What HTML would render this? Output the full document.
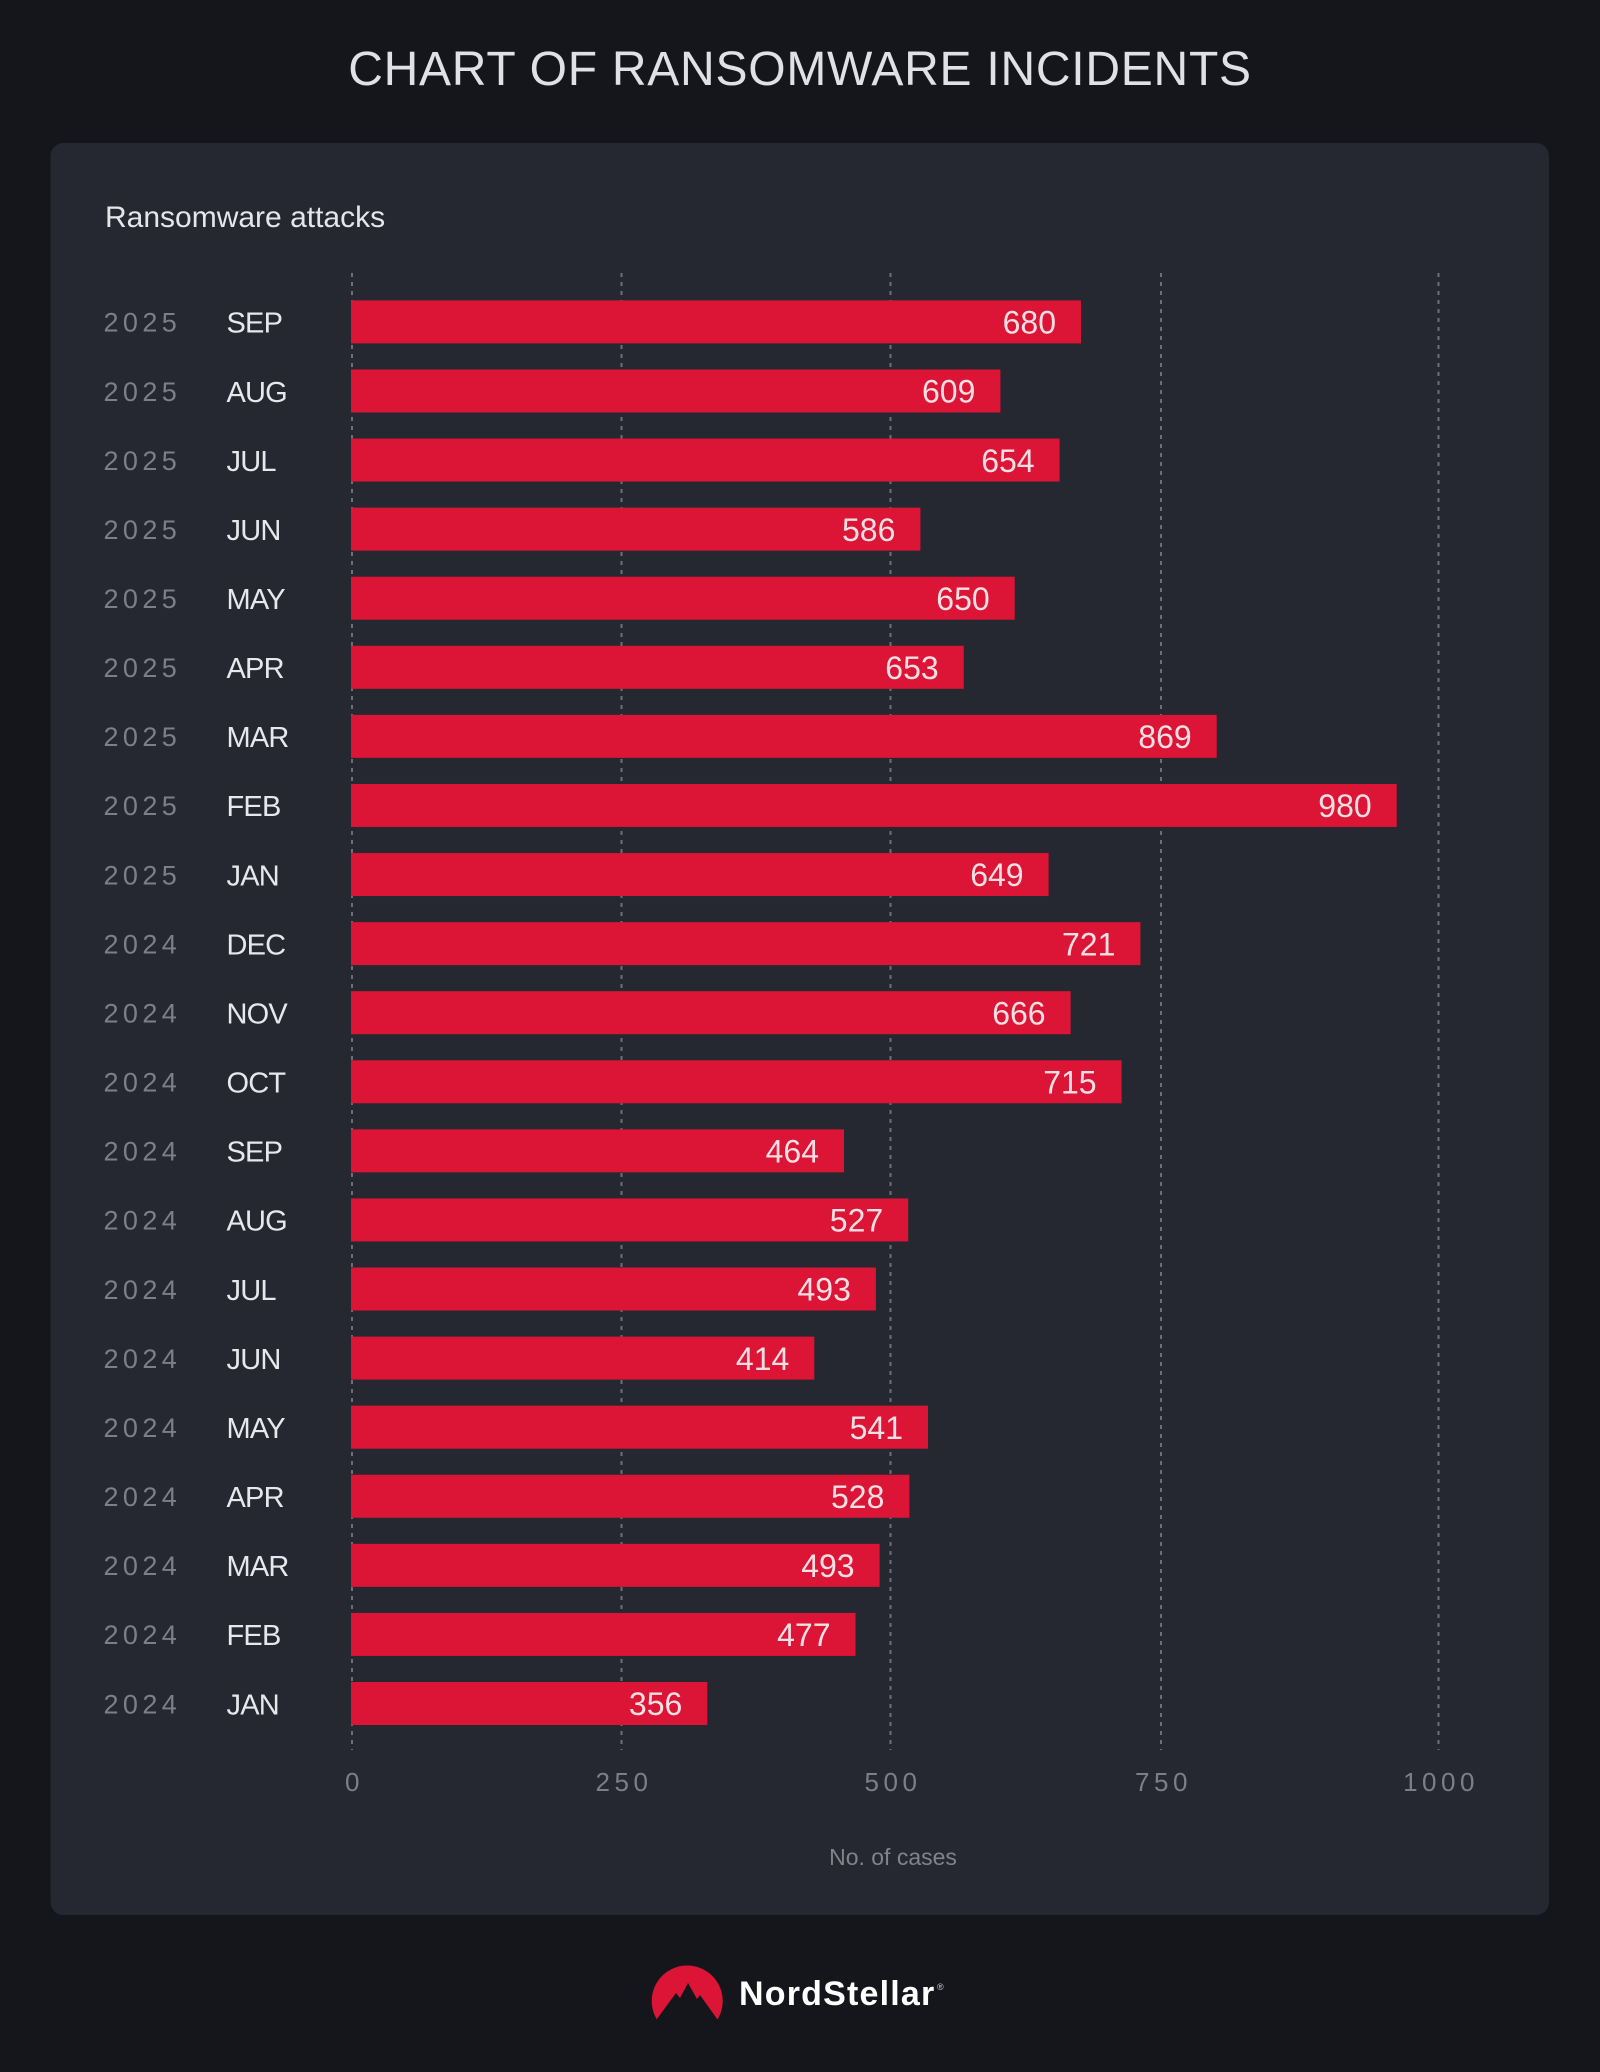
<!DOCTYPE html>
<html>
<head>
<meta charset="utf-8">
<style>
  html, body { margin: 0; padding: 0; background: #15161b; }
  body { width: 1600px; height: 2072px; overflow: hidden; }
  svg { display: block; }
  text { font-family: "Liberation Sans", "DejaVu Sans", sans-serif; }
</style>
</head>
<body>
<svg width="1600" height="2072" viewBox="0 0 1600 2072" xmlns="http://www.w3.org/2000/svg">
  <defs>
    <clipPath id="logoclip"><rect x="640" y="1950" width="100" height="71"/></clipPath>
  </defs>
  <rect x="0" y="0" width="1600" height="2072" fill="#15161b"/>

  <!-- Title -->
  <text x="800" y="85" text-anchor="middle" font-size="48" letter-spacing="0.75" fill="#dfe1e7">CHART OF RANSOMWARE INCIDENTS</text>

  <!-- Card -->
  <rect x="50.5" y="143" width="1498.5" height="1772" rx="13" ry="13" fill="#252830"/>

  <text x="105" y="227" font-size="30" fill="#e4e6eb">Ransomware attacks</text>

  <!-- Gridlines -->
  <g stroke="#6c6f78" stroke-width="2" stroke-dasharray="4 5">
    <line x1="352" y1="273" x2="352" y2="1750"/>
    <line x1="621.5" y1="273" x2="621.5" y2="1750"/>
    <line x1="890.5" y1="273" x2="890.5" y2="1750"/>
    <line x1="1161" y1="273" x2="1161" y2="1750"/>
    <line x1="1438.5" y1="273" x2="1438.5" y2="1750"/>
  </g>

  <!-- Rows -->
  <g id="rows">
    <g transform="translate(0,0)">
      <rect x="351" y="300.4" width="730" height="43" fill="#dc1436"/>
      <text x="1056" y="333.6" text-anchor="end" font-size="32" fill="#f6e0e4">680</text>
      <text x="103.5" y="331.7" font-size="27" letter-spacing="4.4" fill="#7c7f87">2025</text>
      <text x="226.5" y="332.7" font-size="29" letter-spacing="-0.8" fill="#e6e8ed">SEP</text>
    </g>
    <g transform="translate(0,69.08)">
      <rect x="351" y="300.4" width="649.4" height="43" fill="#dc1436"/>
      <text x="975.4" y="333.6" text-anchor="end" font-size="32" fill="#f6e0e4">609</text>
      <text x="103.5" y="331.7" font-size="27" letter-spacing="4.4" fill="#7c7f87">2025</text>
      <text x="226.5" y="332.7" font-size="29" letter-spacing="-0.8" fill="#e6e8ed">AUG</text>
    </g>
    <g transform="translate(0,138.16)">
      <rect x="351" y="300.4" width="708.6" height="43" fill="#dc1436"/>
      <text x="1034.6" y="333.6" text-anchor="end" font-size="32" fill="#f6e0e4">654</text>
      <text x="103.5" y="331.7" font-size="27" letter-spacing="4.4" fill="#7c7f87">2025</text>
      <text x="226.5" y="332.7" font-size="29" letter-spacing="-0.8" fill="#e6e8ed">JUL</text>
    </g>
    <g transform="translate(0,207.24)">
      <rect x="351" y="300.4" width="569.4" height="43" fill="#dc1436"/>
      <text x="895.4" y="333.6" text-anchor="end" font-size="32" fill="#f6e0e4">586</text>
      <text x="103.5" y="331.7" font-size="27" letter-spacing="4.4" fill="#7c7f87">2025</text>
      <text x="226.5" y="332.7" font-size="29" letter-spacing="-0.8" fill="#e6e8ed">JUN</text>
    </g>
    <g transform="translate(0,276.32)">
      <rect x="351" y="300.4" width="663.7" height="43" fill="#dc1436"/>
      <text x="989.7" y="333.6" text-anchor="end" font-size="32" fill="#f6e0e4">650</text>
      <text x="103.5" y="331.7" font-size="27" letter-spacing="4.4" fill="#7c7f87">2025</text>
      <text x="226.5" y="332.7" font-size="29" letter-spacing="-0.8" fill="#e6e8ed">MAY</text>
    </g>
    <g transform="translate(0,345.4)">
      <rect x="351" y="300.4" width="612.7" height="43" fill="#dc1436"/>
      <text x="938.7" y="333.6" text-anchor="end" font-size="32" fill="#f6e0e4">653</text>
      <text x="103.5" y="331.7" font-size="27" letter-spacing="4.4" fill="#7c7f87">2025</text>
      <text x="226.5" y="332.7" font-size="29" letter-spacing="-0.8" fill="#e6e8ed">APR</text>
    </g>
    <g transform="translate(0,414.48)">
      <rect x="351" y="300.4" width="865.7" height="43" fill="#dc1436"/>
      <text x="1191.7" y="333.6" text-anchor="end" font-size="32" fill="#f6e0e4">869</text>
      <text x="103.5" y="331.7" font-size="27" letter-spacing="4.4" fill="#7c7f87">2025</text>
      <text x="226.5" y="332.7" font-size="29" letter-spacing="-0.8" fill="#e6e8ed">MAR</text>
    </g>
    <g transform="translate(0,483.56)">
      <rect x="351" y="300.4" width="1045.7" height="43" fill="#dc1436"/>
      <text x="1371.7" y="333.6" text-anchor="end" font-size="32" fill="#f6e0e4">980</text>
      <text x="103.5" y="331.7" font-size="27" letter-spacing="4.4" fill="#7c7f87">2025</text>
      <text x="226.5" y="332.7" font-size="29" letter-spacing="-0.8" fill="#e6e8ed">FEB</text>
    </g>
    <g transform="translate(0,552.64)">
      <rect x="351" y="300.4" width="697.6" height="43" fill="#dc1436"/>
      <text x="1023.6" y="333.6" text-anchor="end" font-size="32" fill="#f6e0e4">649</text>
      <text x="103.5" y="331.7" font-size="27" letter-spacing="4.4" fill="#7c7f87">2025</text>
      <text x="226.5" y="332.7" font-size="29" letter-spacing="-0.8" fill="#e6e8ed">JAN</text>
    </g>
    <g transform="translate(0,621.72)">
      <rect x="351" y="300.4" width="789.4" height="43" fill="#dc1436"/>
      <text x="1115.4" y="333.6" text-anchor="end" font-size="32" fill="#f6e0e4">721</text>
      <text x="103.5" y="331.7" font-size="27" letter-spacing="4.4" fill="#7c7f87">2024</text>
      <text x="226.5" y="332.7" font-size="29" letter-spacing="-0.8" fill="#e6e8ed">DEC</text>
    </g>
    <g transform="translate(0,690.8)">
      <rect x="351" y="300.4" width="719.6" height="43" fill="#dc1436"/>
      <text x="1045.6" y="333.6" text-anchor="end" font-size="32" fill="#f6e0e4">666</text>
      <text x="103.5" y="331.7" font-size="27" letter-spacing="4.4" fill="#7c7f87">2024</text>
      <text x="226.5" y="332.7" font-size="29" letter-spacing="-0.8" fill="#e6e8ed">NOV</text>
    </g>
    <g transform="translate(0,759.88)">
      <rect x="351" y="300.4" width="770.6" height="43" fill="#dc1436"/>
      <text x="1096.6" y="333.6" text-anchor="end" font-size="32" fill="#f6e0e4">715</text>
      <text x="103.5" y="331.7" font-size="27" letter-spacing="4.4" fill="#7c7f87">2024</text>
      <text x="226.5" y="332.7" font-size="29" letter-spacing="-0.8" fill="#e6e8ed">OCT</text>
    </g>
    <g transform="translate(0,828.96)">
      <rect x="351" y="300.4" width="493" height="43" fill="#dc1436"/>
      <text x="819" y="333.6" text-anchor="end" font-size="32" fill="#f6e0e4">464</text>
      <text x="103.5" y="331.7" font-size="27" letter-spacing="4.4" fill="#7c7f87">2024</text>
      <text x="226.5" y="332.7" font-size="29" letter-spacing="-0.8" fill="#e6e8ed">SEP</text>
    </g>
    <g transform="translate(0,898.04)">
      <rect x="351" y="300.4" width="557.2" height="43" fill="#dc1436"/>
      <text x="883.2" y="333.6" text-anchor="end" font-size="32" fill="#f6e0e4">527</text>
      <text x="103.5" y="331.7" font-size="27" letter-spacing="4.4" fill="#7c7f87">2024</text>
      <text x="226.5" y="332.7" font-size="29" letter-spacing="-0.8" fill="#e6e8ed">AUG</text>
    </g>
    <g transform="translate(0,967.12)">
      <rect x="351" y="300.4" width="524.9" height="43" fill="#dc1436"/>
      <text x="850.9" y="333.6" text-anchor="end" font-size="32" fill="#f6e0e4">493</text>
      <text x="103.5" y="331.7" font-size="27" letter-spacing="4.4" fill="#7c7f87">2024</text>
      <text x="226.5" y="332.7" font-size="29" letter-spacing="-0.8" fill="#e6e8ed">JUL</text>
    </g>
    <g transform="translate(0,1036.2)">
      <rect x="351" y="300.4" width="463.3" height="43" fill="#dc1436"/>
      <text x="789.3" y="333.6" text-anchor="end" font-size="32" fill="#f6e0e4">414</text>
      <text x="103.5" y="331.7" font-size="27" letter-spacing="4.4" fill="#7c7f87">2024</text>
      <text x="226.5" y="332.7" font-size="29" letter-spacing="-0.8" fill="#e6e8ed">JUN</text>
    </g>
    <g transform="translate(0,1105.28)">
      <rect x="351" y="300.4" width="577" height="43" fill="#dc1436"/>
      <text x="903" y="333.6" text-anchor="end" font-size="32" fill="#f6e0e4">541</text>
      <text x="103.5" y="331.7" font-size="27" letter-spacing="4.4" fill="#7c7f87">2024</text>
      <text x="226.5" y="332.7" font-size="29" letter-spacing="-0.8" fill="#e6e8ed">MAY</text>
    </g>
    <g transform="translate(0,1174.36)">
      <rect x="351" y="300.4" width="558.4" height="43" fill="#dc1436"/>
      <text x="884.4" y="333.6" text-anchor="end" font-size="32" fill="#f6e0e4">528</text>
      <text x="103.5" y="331.7" font-size="27" letter-spacing="4.4" fill="#7c7f87">2024</text>
      <text x="226.5" y="332.7" font-size="29" letter-spacing="-0.8" fill="#e6e8ed">APR</text>
    </g>
    <g transform="translate(0,1243.44)">
      <rect x="351" y="300.4" width="528.6" height="43" fill="#dc1436"/>
      <text x="854.6" y="333.6" text-anchor="end" font-size="32" fill="#f6e0e4">493</text>
      <text x="103.5" y="331.7" font-size="27" letter-spacing="4.4" fill="#7c7f87">2024</text>
      <text x="226.5" y="332.7" font-size="29" letter-spacing="-0.8" fill="#e6e8ed">MAR</text>
    </g>
    <g transform="translate(0,1312.52)">
      <rect x="351" y="300.4" width="504.5" height="43" fill="#dc1436"/>
      <text x="830.5" y="333.6" text-anchor="end" font-size="32" fill="#f6e0e4">477</text>
      <text x="103.5" y="331.7" font-size="27" letter-spacing="4.4" fill="#7c7f87">2024</text>
      <text x="226.5" y="332.7" font-size="29" letter-spacing="-0.8" fill="#e6e8ed">FEB</text>
    </g>
    <g transform="translate(0,1381.6)">
      <rect x="351" y="300.4" width="356.3" height="43" fill="#dc1436"/>
      <text x="682.3" y="333.6" text-anchor="end" font-size="32" fill="#f6e0e4">356</text>
      <text x="103.5" y="331.7" font-size="27" letter-spacing="4.4" fill="#7c7f87">2024</text>
      <text x="226.5" y="332.7" font-size="29" letter-spacing="-0.8" fill="#e6e8ed">JAN</text>
    </g>
  </g>

  <!-- X tick labels -->
  <g font-size="26" letter-spacing="4.5" fill="#7c7f87" text-anchor="middle">
    <text x="354.5" y="1791">0</text>
    <text x="624" y="1791">250</text>
    <text x="893" y="1791">500</text>
    <text x="1163.5" y="1791">750</text>
    <text x="1441" y="1791">1000</text>
  </g>

  <text x="893" y="1865" text-anchor="middle" font-size="23" fill="#80838b">No. of cases</text>

  <!-- Logo -->
  <g clip-path="url(#logoclip)">
    <circle cx="687.2" cy="2001" r="35.5" fill="#dc1436"/>
  </g>
  <polygon points="654,2023 676,1993 680,1998 688,1983 697,1999 700,1995 720,2023" fill="#15161b"/>
  <text x="739" y="2005" font-size="34" font-weight="bold" letter-spacing="1.2" fill="#ffffff">NordStellar</text>
  <text x="937" y="1990" font-size="9" fill="#cfd1d6">®</text>
</svg>
</body>
</html>
